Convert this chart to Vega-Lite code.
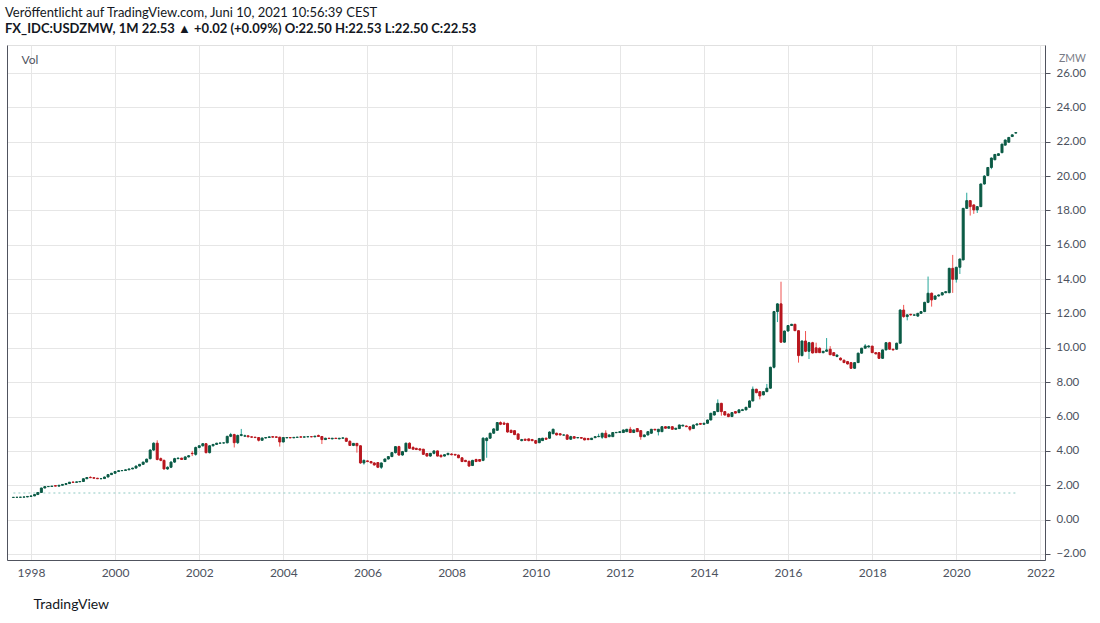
{
  "$schema": "https://vega.github.io/schema/vega-lite/v6.json",
  "description": "USD/ZMW monthly candles, TradingView style.",
  "width": 1038,
  "height": 515,
  "autosize": "none",
  "padding": {"left": 7, "top": 45, "right": 55, "bottom": 63},
  "background": "#ffffff",
  "config": {
    "view": {"stroke": "#e0e0e0"},
    "font": "Lato",
    "axis": {"labelFont": "Lato", "titleFont": "Lato"}
  },
  "title": {
    "text": "Veröffentlicht auf TradingView.com, Juni 10, 2021 10:56:39 CEST",
    "subtitle": "FX_IDC:USDZMW, 1M 22.53 ▲ +0.02 (+0.09%) O:22.50 H:22.53 L:22.50 C:22.53",
    "anchor": "start",
    "frame": "group",
    "dx": -2,
    "offset": 9,
    "font": "Lato",
    "fontSize": 13,
    "fontWeight": "normal",
    "color": "#131722",
    "subtitleFont": "Lato",
    "subtitleFontSize": 13,
    "subtitleFontWeight": "bold",
    "subtitleColor": "#131722",
    "subtitlePadding": 3
  },
  "datasets": {
    "base": [{"from": "1997-08-01", "to": "2021-06-01", "level": 1.55}],
    "candles": [
      {"d": "1997-08-01", "o": 1.29, "h": 1.31, "l": 1.28, "c": 1.30},
      {"d": "1997-09-01", "o": 1.30, "h": 1.31, "l": 1.29, "c": 1.30},
      {"d": "1997-10-01", "o": 1.30, "h": 1.32, "l": 1.29, "c": 1.31},
      {"d": "1997-11-01", "o": 1.31, "h": 1.33, "l": 1.30, "c": 1.32},
      {"d": "1997-12-01", "o": 1.32, "h": 1.36, "l": 1.31, "c": 1.35},
      {"d": "1998-01-01", "o": 1.35, "h": 1.40, "l": 1.34, "c": 1.38},
      {"d": "1998-02-01", "o": 1.38, "h": 1.48, "l": 1.37, "c": 1.46},
      {"d": "1998-03-01", "o": 1.46, "h": 1.60, "l": 1.45, "c": 1.58},
      {"d": "1998-04-01", "o": 1.58, "h": 1.86, "l": 1.57, "c": 1.84},
      {"d": "1998-05-01", "o": 1.84, "h": 1.94, "l": 1.83, "c": 1.92},
      {"d": "1998-06-01", "o": 1.92, "h": 1.95, "l": 1.90, "c": 1.93},
      {"d": "1998-07-01", "o": 1.93, "h": 1.97, "l": 1.92, "c": 1.95},
      {"d": "1998-08-01", "o": 1.98, "h": 2.00, "l": 1.94, "c": 1.95},
      {"d": "1998-09-01", "o": 1.95, "h": 2.02, "l": 1.94, "c": 2.00},
      {"d": "1998-10-01", "o": 2.00, "h": 2.06, "l": 1.99, "c": 2.05},
      {"d": "1998-11-01", "o": 2.05, "h": 2.11, "l": 2.04, "c": 2.10},
      {"d": "1998-12-01", "o": 2.10, "h": 2.19, "l": 2.09, "c": 2.18},
      {"d": "1999-01-01", "o": 2.19, "h": 2.20, "l": 2.16, "c": 2.17},
      {"d": "1999-02-01", "o": 2.17, "h": 2.21, "l": 2.16, "c": 2.20},
      {"d": "1999-03-01", "o": 2.20, "h": 2.23, "l": 2.19, "c": 2.22},
      {"d": "1999-04-01", "o": 2.22, "h": 2.40, "l": 2.21, "c": 2.38},
      {"d": "1999-05-01", "o": 2.38, "h": 2.47, "l": 2.37, "c": 2.45},
      {"d": "1999-06-01", "o": 2.46, "h": 2.52, "l": 2.42, "c": 2.44},
      {"d": "1999-07-01", "o": 2.44, "h": 2.46, "l": 2.40, "c": 2.41},
      {"d": "1999-08-01", "o": 2.41, "h": 2.43, "l": 2.37, "c": 2.38},
      {"d": "1999-09-01", "o": 2.38, "h": 2.40, "l": 2.35, "c": 2.39},
      {"d": "1999-10-01", "o": 2.39, "h": 2.50, "l": 2.38, "c": 2.48},
      {"d": "1999-11-01", "o": 2.48, "h": 2.64, "l": 2.47, "c": 2.62},
      {"d": "1999-12-01", "o": 2.62, "h": 2.72, "l": 2.60, "c": 2.70},
      {"d": "2000-01-01", "o": 2.70, "h": 2.82, "l": 2.69, "c": 2.80},
      {"d": "2000-02-01", "o": 2.80, "h": 2.87, "l": 2.78, "c": 2.85},
      {"d": "2000-03-01", "o": 2.85, "h": 2.88, "l": 2.82, "c": 2.86},
      {"d": "2000-04-01", "o": 2.86, "h": 2.92, "l": 2.85, "c": 2.90},
      {"d": "2000-05-01", "o": 2.90, "h": 2.97, "l": 2.89, "c": 2.95},
      {"d": "2000-06-01", "o": 2.95, "h": 3.02, "l": 2.94, "c": 3.00},
      {"d": "2000-07-01", "o": 3.00, "h": 3.14, "l": 2.99, "c": 3.12},
      {"d": "2000-08-01", "o": 3.12, "h": 3.24, "l": 3.10, "c": 3.22},
      {"d": "2000-09-01", "o": 3.22, "h": 3.37, "l": 3.20, "c": 3.35},
      {"d": "2000-10-01", "o": 3.35, "h": 3.55, "l": 3.34, "c": 3.52},
      {"d": "2000-11-01", "o": 3.55, "h": 4.10, "l": 3.50, "c": 4.05},
      {"d": "2000-12-01", "o": 4.05, "h": 4.50, "l": 4.00, "c": 4.45},
      {"d": "2001-01-01", "o": 4.45, "h": 4.62, "l": 3.45, "c": 3.50},
      {"d": "2001-02-01", "o": 3.55, "h": 3.62, "l": 3.40, "c": 3.45},
      {"d": "2001-03-01", "o": 3.45, "h": 3.50, "l": 2.92, "c": 2.95},
      {"d": "2001-04-01", "o": 2.95, "h": 3.10, "l": 2.90, "c": 3.05},
      {"d": "2001-05-01", "o": 3.05, "h": 3.40, "l": 3.00, "c": 3.35},
      {"d": "2001-06-01", "o": 3.35, "h": 3.60, "l": 3.30, "c": 3.55},
      {"d": "2001-07-01", "o": 3.55, "h": 3.62, "l": 3.52, "c": 3.58},
      {"d": "2001-08-01", "o": 3.58, "h": 3.60, "l": 3.48, "c": 3.50},
      {"d": "2001-09-01", "o": 3.50, "h": 3.68, "l": 3.48, "c": 3.65},
      {"d": "2001-10-01", "o": 3.65, "h": 3.75, "l": 3.62, "c": 3.72},
      {"d": "2001-11-01", "o": 3.86, "h": 4.00, "l": 3.70, "c": 3.84},
      {"d": "2001-12-01", "o": 3.80, "h": 4.25, "l": 3.72, "c": 4.20},
      {"d": "2002-01-01", "o": 4.20, "h": 4.32, "l": 4.15, "c": 4.30},
      {"d": "2002-02-01", "o": 4.30, "h": 4.45, "l": 4.25, "c": 4.42},
      {"d": "2002-03-01", "o": 4.42, "h": 4.46, "l": 3.85, "c": 3.90},
      {"d": "2002-04-01", "o": 3.90, "h": 4.32, "l": 3.85, "c": 4.30},
      {"d": "2002-05-01", "o": 4.30, "h": 4.40, "l": 4.25, "c": 4.38},
      {"d": "2002-06-01", "o": 4.38, "h": 4.47, "l": 4.35, "c": 4.45},
      {"d": "2002-07-01", "o": 4.45, "h": 4.48, "l": 4.42, "c": 4.46},
      {"d": "2002-08-01", "o": 4.46, "h": 4.49, "l": 4.43, "c": 4.47},
      {"d": "2002-09-01", "o": 4.47, "h": 4.88, "l": 4.45, "c": 4.85},
      {"d": "2002-10-01", "o": 4.85, "h": 5.05, "l": 4.80, "c": 4.95},
      {"d": "2002-11-01", "o": 4.95, "h": 5.00, "l": 4.20, "c": 4.48},
      {"d": "2002-12-01", "o": 4.48, "h": 4.95, "l": 4.40, "c": 4.90},
      {"d": "2003-01-01", "o": 4.90, "h": 5.28, "l": 4.85, "c": 4.95},
      {"d": "2003-02-01", "o": 4.86, "h": 4.95, "l": 4.82, "c": 4.88},
      {"d": "2003-03-01", "o": 4.88, "h": 4.90, "l": 4.80, "c": 4.82},
      {"d": "2003-04-01", "o": 4.82, "h": 4.84, "l": 4.76, "c": 4.80},
      {"d": "2003-05-01", "o": 4.80, "h": 4.82, "l": 4.74, "c": 4.78},
      {"d": "2003-06-01", "o": 4.78, "h": 4.80, "l": 4.55, "c": 4.62},
      {"d": "2003-07-01", "o": 4.62, "h": 4.78, "l": 4.60, "c": 4.75},
      {"d": "2003-08-01", "o": 4.75, "h": 4.80, "l": 4.73, "c": 4.78},
      {"d": "2003-09-01", "o": 4.78, "h": 4.84, "l": 4.76, "c": 4.82},
      {"d": "2003-10-01", "o": 4.83, "h": 4.86, "l": 4.78, "c": 4.80},
      {"d": "2003-11-01", "o": 4.82, "h": 4.84, "l": 4.76, "c": 4.79},
      {"d": "2003-12-01", "o": 4.80, "h": 4.82, "l": 4.25, "c": 4.52},
      {"d": "2004-01-01", "o": 4.52, "h": 4.80, "l": 4.50, "c": 4.78},
      {"d": "2004-02-01", "o": 4.76, "h": 4.80, "l": 4.74, "c": 4.78},
      {"d": "2004-03-01", "o": 4.78, "h": 4.80, "l": 4.74, "c": 4.76},
      {"d": "2004-04-01", "o": 4.76, "h": 4.80, "l": 4.75, "c": 4.79},
      {"d": "2004-05-01", "o": 4.79, "h": 4.82, "l": 4.77, "c": 4.80},
      {"d": "2004-06-01", "o": 4.82, "h": 4.85, "l": 4.78, "c": 4.80},
      {"d": "2004-07-01", "o": 4.80, "h": 4.83, "l": 4.78, "c": 4.82},
      {"d": "2004-08-01", "o": 4.82, "h": 4.84, "l": 4.80, "c": 4.83},
      {"d": "2004-09-01", "o": 4.83, "h": 4.86, "l": 4.80, "c": 4.82},
      {"d": "2004-10-01", "o": 4.82, "h": 4.88, "l": 4.80, "c": 4.86},
      {"d": "2004-11-01", "o": 4.90, "h": 4.95, "l": 4.82, "c": 4.84},
      {"d": "2004-12-01", "o": 4.84, "h": 4.86, "l": 4.40, "c": 4.66},
      {"d": "2005-01-01", "o": 4.66, "h": 4.76, "l": 4.64, "c": 4.74},
      {"d": "2005-02-01", "o": 4.74, "h": 4.76, "l": 4.70, "c": 4.72},
      {"d": "2005-03-01", "o": 4.70, "h": 4.75, "l": 4.68, "c": 4.74},
      {"d": "2005-04-01", "o": 4.74, "h": 4.76, "l": 4.70, "c": 4.72},
      {"d": "2005-05-01", "o": 4.70, "h": 4.75, "l": 4.68, "c": 4.74},
      {"d": "2005-06-01", "o": 4.74, "h": 4.78, "l": 4.72, "c": 4.76},
      {"d": "2005-07-01", "o": 4.74, "h": 4.76, "l": 4.52, "c": 4.56},
      {"d": "2005-08-01", "o": 4.56, "h": 4.62, "l": 4.30, "c": 4.32},
      {"d": "2005-09-01", "o": 4.32, "h": 4.46, "l": 4.28, "c": 4.44},
      {"d": "2005-10-01", "o": 4.44, "h": 4.46, "l": 3.90, "c": 4.30},
      {"d": "2005-11-01", "o": 4.30, "h": 4.32, "l": 3.25, "c": 3.30},
      {"d": "2005-12-01", "o": 3.30, "h": 3.50, "l": 3.20, "c": 3.45},
      {"d": "2006-01-01", "o": 3.42, "h": 3.45, "l": 3.35, "c": 3.38},
      {"d": "2006-02-01", "o": 3.38, "h": 3.42, "l": 3.28, "c": 3.30},
      {"d": "2006-03-01", "o": 3.30, "h": 3.34, "l": 3.15, "c": 3.18},
      {"d": "2006-04-01", "o": 3.32, "h": 3.35, "l": 3.00, "c": 3.05},
      {"d": "2006-05-01", "o": 3.05, "h": 3.32, "l": 2.95, "c": 3.30},
      {"d": "2006-06-01", "o": 3.38, "h": 3.55, "l": 3.35, "c": 3.53},
      {"d": "2006-07-01", "o": 3.53, "h": 3.70, "l": 3.50, "c": 3.67},
      {"d": "2006-08-01", "o": 3.67, "h": 3.92, "l": 3.64, "c": 3.90},
      {"d": "2006-09-01", "o": 3.90, "h": 4.28, "l": 3.85, "c": 4.25},
      {"d": "2006-10-01", "o": 4.25, "h": 4.30, "l": 3.72, "c": 3.76},
      {"d": "2006-11-01", "o": 3.76, "h": 4.00, "l": 3.72, "c": 3.96},
      {"d": "2006-12-01", "o": 3.96, "h": 4.48, "l": 3.94, "c": 4.45},
      {"d": "2007-01-01", "o": 4.45, "h": 4.50, "l": 4.12, "c": 4.15},
      {"d": "2007-02-01", "o": 4.20, "h": 4.28, "l": 4.08, "c": 4.10},
      {"d": "2007-03-01", "o": 4.15, "h": 4.18, "l": 4.05, "c": 4.08},
      {"d": "2007-04-01", "o": 4.12, "h": 4.15, "l": 4.02, "c": 4.05},
      {"d": "2007-05-01", "o": 4.10, "h": 4.12, "l": 3.78, "c": 3.80},
      {"d": "2007-06-01", "o": 3.85, "h": 3.88, "l": 3.68, "c": 3.70},
      {"d": "2007-07-01", "o": 3.70, "h": 3.88, "l": 3.66, "c": 3.86},
      {"d": "2007-08-01", "o": 3.86, "h": 4.02, "l": 3.80, "c": 4.00},
      {"d": "2007-09-01", "o": 4.00, "h": 4.02, "l": 3.68, "c": 3.70},
      {"d": "2007-10-01", "o": 3.75, "h": 3.78, "l": 3.62, "c": 3.66},
      {"d": "2007-11-01", "o": 3.70, "h": 3.80, "l": 3.68, "c": 3.78},
      {"d": "2007-12-01", "o": 3.78, "h": 3.88, "l": 3.76, "c": 3.86},
      {"d": "2008-01-01", "o": 3.82, "h": 3.86, "l": 3.74, "c": 3.78},
      {"d": "2008-02-01", "o": 3.80, "h": 3.82, "l": 3.72, "c": 3.76},
      {"d": "2008-03-01", "o": 3.76, "h": 3.78, "l": 3.58, "c": 3.60},
      {"d": "2008-04-01", "o": 3.60, "h": 3.62, "l": 3.36, "c": 3.38},
      {"d": "2008-05-01", "o": 3.45, "h": 3.48, "l": 3.35, "c": 3.38},
      {"d": "2008-06-01", "o": 3.40, "h": 3.42, "l": 3.08, "c": 3.12},
      {"d": "2008-07-01", "o": 3.15, "h": 3.48, "l": 3.12, "c": 3.45},
      {"d": "2008-08-01", "o": 3.50, "h": 3.55, "l": 3.36, "c": 3.38},
      {"d": "2008-09-01", "o": 3.50, "h": 3.52, "l": 3.38, "c": 3.40},
      {"d": "2008-10-01", "o": 3.45, "h": 4.80, "l": 3.40, "c": 4.74},
      {"d": "2008-11-01", "o": 4.60, "h": 4.80, "l": 3.60, "c": 4.74},
      {"d": "2008-12-01", "o": 4.74, "h": 5.06, "l": 4.70, "c": 5.03},
      {"d": "2009-01-01", "o": 5.03, "h": 5.32, "l": 5.00, "c": 5.28},
      {"d": "2009-02-01", "o": 5.20, "h": 5.68, "l": 5.18, "c": 5.65},
      {"d": "2009-03-01", "o": 5.65, "h": 5.72, "l": 5.50, "c": 5.55},
      {"d": "2009-04-01", "o": 5.62, "h": 5.70, "l": 5.52, "c": 5.55},
      {"d": "2009-05-01", "o": 5.60, "h": 5.64, "l": 5.06, "c": 5.10},
      {"d": "2009-06-01", "o": 5.20, "h": 5.24, "l": 5.04, "c": 5.07},
      {"d": "2009-07-01", "o": 5.18, "h": 5.20, "l": 4.92, "c": 4.95},
      {"d": "2009-08-01", "o": 4.99, "h": 5.02, "l": 4.64, "c": 4.68},
      {"d": "2009-09-01", "o": 4.60, "h": 4.70, "l": 4.56, "c": 4.66},
      {"d": "2009-10-01", "o": 4.68, "h": 4.72, "l": 4.58, "c": 4.62},
      {"d": "2009-11-01", "o": 4.70, "h": 4.72, "l": 4.56, "c": 4.60},
      {"d": "2009-12-01", "o": 4.66, "h": 4.70, "l": 4.56, "c": 4.60},
      {"d": "2010-01-01", "o": 4.60, "h": 4.64, "l": 4.40, "c": 4.45},
      {"d": "2010-02-01", "o": 4.48, "h": 4.76, "l": 4.45, "c": 4.72},
      {"d": "2010-03-01", "o": 4.60, "h": 4.76, "l": 4.58, "c": 4.74},
      {"d": "2010-04-01", "o": 4.74, "h": 4.78, "l": 4.64, "c": 4.68},
      {"d": "2010-05-01", "o": 4.74, "h": 5.14, "l": 4.70, "c": 5.10},
      {"d": "2010-06-01", "o": 5.00, "h": 5.30, "l": 4.98, "c": 5.26},
      {"d": "2010-07-01", "o": 5.03, "h": 5.06, "l": 4.90, "c": 4.93},
      {"d": "2010-08-01", "o": 5.00, "h": 5.02, "l": 4.90, "c": 4.93},
      {"d": "2010-09-01", "o": 4.92, "h": 4.96, "l": 4.90, "c": 4.93},
      {"d": "2010-10-01", "o": 4.93, "h": 4.96, "l": 4.64, "c": 4.68},
      {"d": "2010-11-01", "o": 4.68, "h": 4.88, "l": 4.64, "c": 4.83},
      {"d": "2010-12-01", "o": 4.83, "h": 4.86, "l": 4.72, "c": 4.74},
      {"d": "2011-01-01", "o": 4.76, "h": 4.80, "l": 4.74, "c": 4.78},
      {"d": "2011-02-01", "o": 4.78, "h": 4.80, "l": 4.72, "c": 4.74},
      {"d": "2011-03-01", "o": 4.74, "h": 4.76, "l": 4.62, "c": 4.64},
      {"d": "2011-04-01", "o": 4.72, "h": 4.76, "l": 4.62, "c": 4.66},
      {"d": "2011-05-01", "o": 4.66, "h": 4.76, "l": 4.64, "c": 4.74},
      {"d": "2011-06-01", "o": 4.77, "h": 4.85, "l": 4.75, "c": 4.83},
      {"d": "2011-07-01", "o": 4.83, "h": 5.00, "l": 4.80, "c": 4.85},
      {"d": "2011-08-01", "o": 4.80, "h": 5.05, "l": 4.70, "c": 5.03},
      {"d": "2011-09-01", "o": 5.03, "h": 5.20, "l": 4.75, "c": 4.77},
      {"d": "2011-10-01", "o": 4.83, "h": 4.95, "l": 4.80, "c": 4.93},
      {"d": "2011-11-01", "o": 4.83, "h": 5.10, "l": 4.82, "c": 5.07},
      {"d": "2011-12-01", "o": 5.06, "h": 5.10, "l": 5.04, "c": 5.08},
      {"d": "2012-01-01", "o": 5.07, "h": 5.14, "l": 5.05, "c": 5.12},
      {"d": "2012-02-01", "o": 5.07, "h": 5.24, "l": 5.05, "c": 5.22},
      {"d": "2012-03-01", "o": 5.12, "h": 5.28, "l": 5.10, "c": 5.26},
      {"d": "2012-04-01", "o": 5.26, "h": 5.40, "l": 5.05, "c": 5.07},
      {"d": "2012-05-01", "o": 5.07, "h": 5.24, "l": 5.05, "c": 5.22},
      {"d": "2012-06-01", "o": 5.30, "h": 5.32, "l": 5.10, "c": 5.12},
      {"d": "2012-07-01", "o": 5.18, "h": 5.20, "l": 4.65, "c": 4.83},
      {"d": "2012-08-01", "o": 4.83, "h": 4.95, "l": 4.80, "c": 4.93},
      {"d": "2012-09-01", "o": 4.93, "h": 5.14, "l": 4.90, "c": 5.12},
      {"d": "2012-10-01", "o": 5.03, "h": 5.28, "l": 5.00, "c": 5.26},
      {"d": "2012-11-01", "o": 5.26, "h": 5.28, "l": 5.20, "c": 5.22},
      {"d": "2012-12-01", "o": 5.12, "h": 5.28, "l": 4.90, "c": 5.26},
      {"d": "2013-01-01", "o": 5.12, "h": 5.43, "l": 5.10, "c": 5.41},
      {"d": "2013-02-01", "o": 5.41, "h": 5.44, "l": 5.30, "c": 5.32},
      {"d": "2013-03-01", "o": 5.32, "h": 5.43, "l": 5.30, "c": 5.41},
      {"d": "2013-04-01", "o": 5.41, "h": 5.44, "l": 5.24, "c": 5.26},
      {"d": "2013-05-01", "o": 5.26, "h": 5.34, "l": 5.24, "c": 5.32},
      {"d": "2013-06-01", "o": 5.30, "h": 5.53, "l": 5.28, "c": 5.51},
      {"d": "2013-07-01", "o": 5.45, "h": 5.52, "l": 5.43, "c": 5.50},
      {"d": "2013-08-01", "o": 5.45, "h": 5.48, "l": 5.39, "c": 5.41},
      {"d": "2013-09-01", "o": 5.41, "h": 5.44, "l": 5.15, "c": 5.26},
      {"d": "2013-10-01", "o": 5.30, "h": 5.53, "l": 5.28, "c": 5.51},
      {"d": "2013-11-01", "o": 5.51, "h": 5.60, "l": 5.49, "c": 5.57},
      {"d": "2013-12-01", "o": 5.60, "h": 5.62, "l": 5.52, "c": 5.55},
      {"d": "2014-01-01", "o": 5.55, "h": 5.64, "l": 5.53, "c": 5.61},
      {"d": "2014-02-01", "o": 5.61, "h": 5.82, "l": 5.58, "c": 5.80},
      {"d": "2014-03-01", "o": 5.80, "h": 6.22, "l": 5.78, "c": 6.19},
      {"d": "2014-04-01", "o": 6.09, "h": 6.32, "l": 6.06, "c": 6.29},
      {"d": "2014-05-01", "o": 6.29, "h": 7.00, "l": 6.26, "c": 6.77},
      {"d": "2014-06-01", "o": 6.77, "h": 6.80, "l": 6.05, "c": 6.29},
      {"d": "2014-07-01", "o": 6.29, "h": 6.32, "l": 6.06, "c": 6.09},
      {"d": "2014-08-01", "o": 6.15, "h": 6.18, "l": 5.96, "c": 6.00},
      {"d": "2014-09-01", "o": 6.00, "h": 6.26, "l": 5.98, "c": 6.23},
      {"d": "2014-10-01", "o": 6.29, "h": 6.32, "l": 6.18, "c": 6.20},
      {"d": "2014-11-01", "o": 6.23, "h": 6.42, "l": 6.20, "c": 6.39},
      {"d": "2014-12-01", "o": 6.35, "h": 6.45, "l": 6.33, "c": 6.40},
      {"d": "2015-01-01", "o": 6.39, "h": 6.56, "l": 6.37, "c": 6.54},
      {"d": "2015-02-01", "o": 6.54, "h": 6.94, "l": 6.52, "c": 6.91},
      {"d": "2015-03-01", "o": 6.91, "h": 7.75, "l": 6.88, "c": 7.59},
      {"d": "2015-04-01", "o": 7.59, "h": 7.62, "l": 7.36, "c": 7.39},
      {"d": "2015-05-01", "o": 7.45, "h": 7.48, "l": 7.00, "c": 7.20},
      {"d": "2015-06-01", "o": 7.26, "h": 7.48, "l": 7.24, "c": 7.45},
      {"d": "2015-07-01", "o": 7.45, "h": 7.90, "l": 7.42, "c": 7.65},
      {"d": "2015-08-01", "o": 7.65, "h": 8.90, "l": 7.62, "c": 8.87},
      {"d": "2015-09-01", "o": 8.87, "h": 12.15, "l": 8.80, "c": 12.11},
      {"d": "2015-10-01", "o": 12.11, "h": 12.60, "l": 11.50, "c": 12.56},
      {"d": "2015-11-01", "o": 12.56, "h": 13.85, "l": 10.30, "c": 10.33},
      {"d": "2015-12-01", "o": 10.33, "h": 11.00, "l": 10.30, "c": 10.98},
      {"d": "2016-01-01", "o": 10.98, "h": 11.32, "l": 10.95, "c": 11.30},
      {"d": "2016-02-01", "o": 11.30, "h": 11.40, "l": 11.28, "c": 11.37},
      {"d": "2016-03-01", "o": 11.37, "h": 11.40, "l": 10.98, "c": 11.00},
      {"d": "2016-04-01", "o": 11.00, "h": 11.02, "l": 9.14, "c": 9.55},
      {"d": "2016-05-01", "o": 9.55, "h": 10.42, "l": 9.50, "c": 10.40},
      {"d": "2016-06-01", "o": 10.40, "h": 10.98, "l": 9.75, "c": 9.80},
      {"d": "2016-07-01", "o": 9.80, "h": 10.35, "l": 9.35, "c": 10.30},
      {"d": "2016-08-01", "o": 10.30, "h": 10.35, "l": 9.68, "c": 9.70},
      {"d": "2016-09-01", "o": 10.00, "h": 10.30, "l": 9.70, "c": 9.72},
      {"d": "2016-10-01", "o": 9.98, "h": 10.02, "l": 9.70, "c": 9.72},
      {"d": "2016-11-01", "o": 9.72, "h": 9.82, "l": 9.68, "c": 9.80},
      {"d": "2016-12-01", "o": 9.80, "h": 10.57, "l": 9.78, "c": 9.88},
      {"d": "2017-01-01", "o": 9.92, "h": 10.10, "l": 9.58, "c": 9.60},
      {"d": "2017-02-01", "o": 9.72, "h": 9.75, "l": 9.52, "c": 9.55},
      {"d": "2017-03-01", "o": 9.50, "h": 9.62, "l": 9.45, "c": 9.58},
      {"d": "2017-04-01", "o": 9.40, "h": 9.45, "l": 9.26, "c": 9.30},
      {"d": "2017-05-01", "o": 9.28, "h": 9.32, "l": 9.12, "c": 9.14},
      {"d": "2017-06-01", "o": 9.20, "h": 9.24, "l": 9.03, "c": 9.06},
      {"d": "2017-07-01", "o": 9.14, "h": 9.18, "l": 8.78, "c": 8.81},
      {"d": "2017-08-01", "o": 8.81, "h": 9.16, "l": 8.78, "c": 9.14},
      {"d": "2017-09-01", "o": 9.14, "h": 9.72, "l": 9.12, "c": 9.69},
      {"d": "2017-10-01", "o": 9.69, "h": 10.00, "l": 9.66, "c": 9.98},
      {"d": "2017-11-01", "o": 9.98, "h": 10.22, "l": 9.96, "c": 10.11},
      {"d": "2017-12-01", "o": 10.05, "h": 10.14, "l": 10.02, "c": 10.11},
      {"d": "2018-01-01", "o": 10.10, "h": 10.12, "l": 9.70, "c": 9.72},
      {"d": "2018-02-01", "o": 9.72, "h": 9.75, "l": 9.62, "c": 9.65},
      {"d": "2018-03-01", "o": 9.72, "h": 9.75, "l": 9.36, "c": 9.39},
      {"d": "2018-04-01", "o": 9.39, "h": 9.90, "l": 9.36, "c": 9.88},
      {"d": "2018-05-01", "o": 9.88, "h": 10.32, "l": 9.86, "c": 10.30},
      {"d": "2018-06-01", "o": 10.30, "h": 10.35, "l": 9.90, "c": 9.92},
      {"d": "2018-07-01", "o": 9.92, "h": 9.95, "l": 9.85, "c": 9.88},
      {"d": "2018-08-01", "o": 9.92, "h": 10.30, "l": 9.90, "c": 10.27},
      {"d": "2018-09-01", "o": 10.27, "h": 12.25, "l": 10.25, "c": 12.20},
      {"d": "2018-10-01", "o": 12.20, "h": 12.50, "l": 11.75, "c": 11.82},
      {"d": "2018-11-01", "o": 11.82, "h": 11.95, "l": 11.60, "c": 11.92},
      {"d": "2018-12-01", "o": 11.95, "h": 11.98, "l": 11.88, "c": 11.92},
      {"d": "2019-01-01", "o": 11.90, "h": 11.94, "l": 11.86, "c": 11.92},
      {"d": "2019-02-01", "o": 11.85, "h": 12.03, "l": 11.80, "c": 12.01},
      {"d": "2019-03-01", "o": 12.01, "h": 12.14, "l": 11.98, "c": 12.11},
      {"d": "2019-04-01", "o": 12.11, "h": 12.68, "l": 12.08, "c": 12.65},
      {"d": "2019-05-01", "o": 12.65, "h": 14.15, "l": 12.60, "c": 13.18},
      {"d": "2019-06-01", "o": 13.18, "h": 13.22, "l": 12.40, "c": 12.79},
      {"d": "2019-07-01", "o": 12.83, "h": 13.05, "l": 12.80, "c": 13.02},
      {"d": "2019-08-01", "o": 13.02, "h": 13.10, "l": 12.98, "c": 13.08},
      {"d": "2019-09-01", "o": 13.08, "h": 13.24, "l": 13.05, "c": 13.21},
      {"d": "2019-10-01", "o": 13.21, "h": 13.30, "l": 13.18, "c": 13.27},
      {"d": "2019-11-01", "o": 13.21, "h": 14.66, "l": 13.18, "c": 14.63},
      {"d": "2019-12-01", "o": 14.63, "h": 15.41, "l": 13.20, "c": 13.99},
      {"d": "2020-01-01", "o": 13.99, "h": 14.72, "l": 13.80, "c": 14.69},
      {"d": "2020-02-01", "o": 14.69, "h": 15.20, "l": 14.30, "c": 15.17},
      {"d": "2020-03-01", "o": 15.12, "h": 18.15, "l": 15.10, "c": 18.12},
      {"d": "2020-04-01", "o": 18.12, "h": 19.03, "l": 18.10, "c": 18.57},
      {"d": "2020-05-01", "o": 18.57, "h": 18.60, "l": 17.70, "c": 18.22},
      {"d": "2020-06-01", "o": 18.32, "h": 18.35, "l": 17.80, "c": 18.03},
      {"d": "2020-07-01", "o": 18.03, "h": 18.25, "l": 17.85, "c": 18.22},
      {"d": "2020-08-01", "o": 18.22, "h": 19.56, "l": 18.20, "c": 19.54},
      {"d": "2020-09-01", "o": 19.54, "h": 20.05, "l": 19.50, "c": 20.00},
      {"d": "2020-10-01", "o": 20.03, "h": 20.52, "l": 20.00, "c": 20.50},
      {"d": "2020-11-01", "o": 20.50, "h": 21.08, "l": 20.40, "c": 21.05},
      {"d": "2020-12-01", "o": 20.95, "h": 21.28, "l": 20.92, "c": 21.26},
      {"d": "2021-01-01", "o": 21.20, "h": 21.32, "l": 21.18, "c": 21.30},
      {"d": "2021-02-01", "o": 21.36, "h": 21.88, "l": 21.34, "c": 21.86},
      {"d": "2021-03-01", "o": 21.80, "h": 22.12, "l": 21.78, "c": 22.10},
      {"d": "2021-04-01", "o": 21.97, "h": 22.27, "l": 21.95, "c": 22.25},
      {"d": "2021-05-01", "o": 22.30, "h": 22.42, "l": 22.28, "c": 22.40},
      {"d": "2021-06-01", "o": 22.50, "h": 22.53, "l": 22.50, "c": 22.53}
    ]
  },
  "resolve": {"axis": {"y": "independent"}},
  "layer": [
    {
      "data": {"name": "base"},
      "mark": {"type": "rule", "strokeDash": [2, 3], "color": "#8fc9c2", "strokeWidth": 1},
      "encoding": {
        "x": {
          "field": "from", "type": "temporal",
          "scale": {"type": "utc", "domain": [{"year": 1997, "month": 7, "date": 20, "utc": true}, {"year": 2021, "month": 12, "date": 28, "utc": true}]},
          "axis": {
            "format": "%Y",
            "tickCount": {"interval": "year", "step": 2},
            "grid": true, "gridColor": "#e6e6e6",
            "domainColor": "#50535e", "ticks": false,
            "labelColor": "#4c525e", "labelFontSize": 12, "labelPadding": 7,
            "title": "TradingView", "titleAnchor": "start", "titleAlign": "left",
            "titleBaseline": "middle", "titleX": 26, "titleY": 44,
            "titleFontSize": 14, "titleFontWeight": "normal", "titleColor": "#131722"
          }
        },
        "x2": {"field": "to"},
        "y": {
          "field": "level", "type": "quantitative",
          "scale": {"domain": [-2.35, 27.63], "nice": false, "zero": false},
          "axis": {"orient": "left", "labels": false, "ticks": false, "grid": false, "domainColor": "#50535e", "title": null}
        }
      }
    },
    {
      "data": {"name": "candles"},
      "mark": {"type": "rule", "strokeWidth": 1},
      "encoding": {
        "x": {"field": "d", "type": "temporal", "scale": {"type": "utc", "domain": [{"year": 1997, "month": 7, "date": 20, "utc": true}, {"year": 2021, "month": 12, "date": 28, "utc": true}]}},
        "y": {
          "field": "l", "type": "quantitative",
          "scale": {"domain": [-2.35, 27.63], "nice": false, "zero": false},
          "axis": {
            "orient": "right",
            "values": [-2, 0, 2, 4, 6, 8, 10, 12, 14, 16, 18, 20, 22, 24, 26],
            "format": ".2f",
            "grid": true, "gridColor": "#e6e6e6",
            "domainColor": "#50535e", "tickColor": "#50535e", "tickSize": 5,
            "labelColor": "#4c525e", "labelFontSize": 11.5, "labelPadding": 6,
            "title": "ZMW", "titleAngle": 0, "titleAlign": "center", "titleBaseline": "middle",
            "titleX": 27, "titleY": 13, "titleFontSize": 10.5, "titleFontWeight": "normal", "titleColor": "#787b86"
          }
        },
        "y2": {"field": "h"},
        "color": {"condition": {"test": "datum.c >= datum.o", "value": "#26a69a"}, "value": "#ef5350"}
      }
    },
    {
      "data": {"name": "candles"},
      "mark": {"type": "bar", "size": 2, "strokeWidth": 1},
      "encoding": {
        "x": {"field": "d", "type": "temporal", "scale": {"type": "utc", "domain": [{"year": 1997, "month": 7, "date": 20, "utc": true}, {"year": 2021, "month": 12, "date": 28, "utc": true}]}},
        "y": {"field": "o", "type": "quantitative", "scale": {"domain": [-2.35, 27.63], "nice": false, "zero": false}, "axis": null},
        "y2": {"field": "c"},
        "fill": {"condition": {"test": "datum.c >= datum.o", "value": "#0b5a45"}, "value": "#b8171f"},
        "stroke": {"condition": {"test": "datum.c >= datum.o", "value": "#0b5a45"}, "value": "#b8171f"}
      }
    },
    {
      "data": {"values": [{"label": "Vol"}]},
      "mark": {"type": "text", "align": "left", "baseline": "middle", "fontSize": 12, "color": "#50535e", "font": "Lato"},
      "encoding": {
        "text": {"field": "label", "type": "nominal"},
        "x": {"datum": {"year": 1997, "month": 10, "date": 10, "utc": true}, "type": "temporal", "scale": {"type": "utc", "domain": [{"year": 1997, "month": 7, "date": 20, "utc": true}, {"year": 2021, "month": 12, "date": 28, "utc": true}]}},
        "y": {"datum": 26.76, "type": "quantitative", "scale": {"domain": [-2.35, 27.63], "nice": false, "zero": false}, "axis": null}
      }
    }
  ]
}
